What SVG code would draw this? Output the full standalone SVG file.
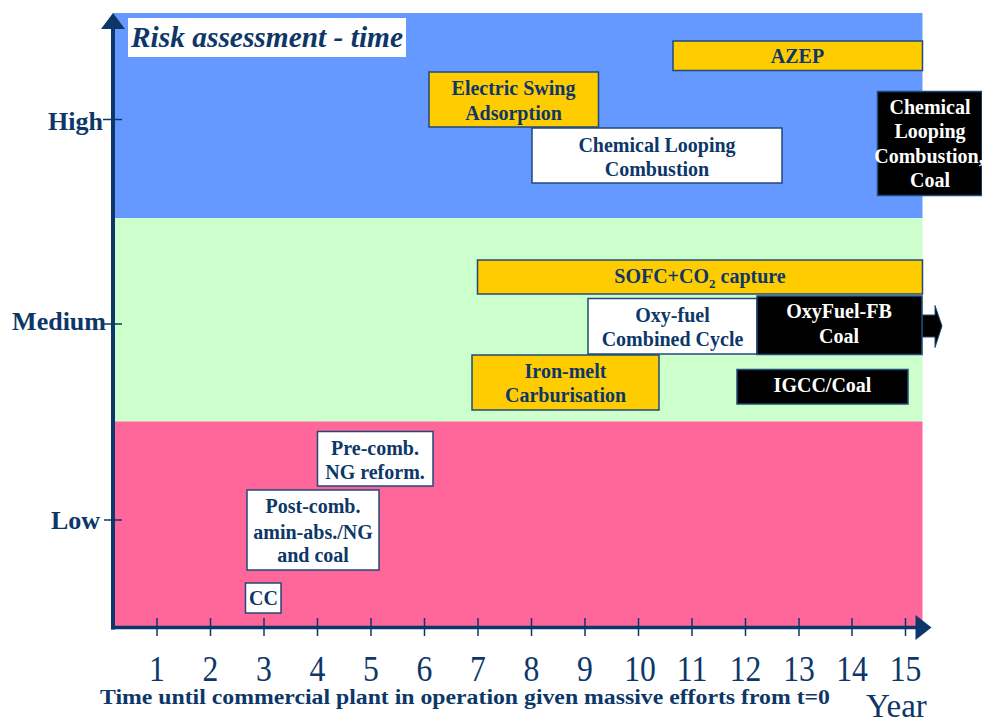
<svg xmlns="http://www.w3.org/2000/svg" width="982" height="724" viewBox="0 0 982 724">
<style>
.lbl{font-family:"Liberation Serif","Times New Roman",serif;font-weight:bold;font-size:20px;fill:#0d3768;text-anchor:middle}
.wl{fill:#ffffff}
.box{stroke:#1f4a7a;stroke-width:1.5}
.org{fill:#ffcc00}
.wht{fill:#ffffff}
.blk{fill:#000000}
.ax{stroke:#0d3768;fill:none}
.ylab{font-family:"Liberation Serif","Times New Roman",serif;font-weight:bold;font-size:26px;fill:#0d3768;text-anchor:end}
.num{font-family:"Liberation Serif","Times New Roman",serif;font-size:36px;fill:#0d3768;text-anchor:middle}
</style>
<rect width="982" height="724" fill="#ffffff"/>
<g id="bands">
<rect x="113" y="13" width="809.5" height="205" fill="#6699ff"/>
<rect x="113" y="218" width="809.5" height="203.5" fill="#ccffcc"/>
<rect x="113" y="421.5" width="809.5" height="205" fill="#ff6699"/>
</g>
<g id="title">
<rect x="128" y="18" width="278" height="39" fill="#ffffff"/>
<text x="131" y="47" font-family="'Liberation Serif','Times New Roman',serif" font-weight="bold" font-style="italic" font-size="29" fill="#0d3768" textLength="272" lengthAdjust="spacingAndGlyphs">Risk assessment - time</text>
</g>
<g id="axes">
<line class="ax" x1="113" y1="26" x2="113" y2="629.5" stroke-width="4"/>
<polygon points="101,29 113,13 125,29" fill="#0d3768"/>
<line class="ax" x1="111" y1="627.5" x2="918" y2="627.5" stroke-width="3.5"/>
<polygon points="915.5,615 931.5,627.5 915.5,640" fill="#0d3768"/>
<g stroke="#0d3768" stroke-width="1.5">
<line x1="103" y1="119.5" x2="122" y2="119.5"/>
<line x1="103" y1="324" x2="122" y2="324"/>
<line x1="104" y1="520" x2="122" y2="520"/>
<line x1="157" y1="618" x2="157" y2="636"/>
<line x1="210.5" y1="618" x2="210.5" y2="636"/>
<line x1="264" y1="618" x2="264" y2="636"/>
<line x1="317.5" y1="618" x2="317.5" y2="636"/>
<line x1="371" y1="618" x2="371" y2="636"/>
<line x1="424.5" y1="618" x2="424.5" y2="636"/>
<line x1="478" y1="618" x2="478" y2="636"/>
<line x1="531.5" y1="618" x2="531.5" y2="636"/>
<line x1="585" y1="618" x2="585" y2="636"/>
<line x1="638.5" y1="618" x2="638.5" y2="636"/>
<line x1="692" y1="618" x2="692" y2="636"/>
<line x1="745.5" y1="618" x2="745.5" y2="636"/>
<line x1="799" y1="618" x2="799" y2="636"/>
<line x1="852" y1="618" x2="852" y2="636"/>
<line x1="905.5" y1="618" x2="905.5" y2="636"/>
</g>
<text class="ylab" x="103" y="129.5">High</text>
<text class="ylab" x="106" y="329.5">Medium</text>
<text class="ylab" x="100" y="529">Low</text>
<g class="num">
<text transform="translate(157,681) scale(0.88,1)">1</text>
<text transform="translate(210.5,681) scale(0.88,1)">2</text>
<text transform="translate(264,681) scale(0.88,1)">3</text>
<text transform="translate(317.5,681) scale(0.88,1)">4</text>
<text transform="translate(371,681) scale(0.88,1)">5</text>
<text transform="translate(424.5,681) scale(0.88,1)">6</text>
<text transform="translate(478,681) scale(0.88,1)">7</text>
<text transform="translate(531.5,681) scale(0.88,1)">8</text>
<text transform="translate(585,681) scale(0.88,1)">9</text>
<text transform="translate(640,681) scale(0.88,1)">10</text>
<text transform="translate(692,681) scale(0.88,1)">11</text>
<text transform="translate(745.5,681) scale(0.88,1)">12</text>
<text transform="translate(799,681) scale(0.88,1)">13</text>
<text transform="translate(852,681) scale(0.88,1)">14</text>
<text transform="translate(905.5,681) scale(0.88,1)">15</text>
</g>
<text x="100" y="704" font-family="'Liberation Serif','Times New Roman',serif" font-weight="bold" font-size="20" fill="#0d3768" textLength="730" lengthAdjust="spacingAndGlyphs">Time until commercial plant in operation given massive efforts from t=0</text>
<text x="866" y="717" font-family="'Liberation Serif','Times New Roman',serif" font-size="33" fill="#0d3768">Year</text>
</g>
<g id="connectors">
<polygon points="922,315 935,315 935,305.5 942,326 935,347.5 935,337 922,337" fill="#000000" stroke="#1f4a7a" stroke-width="1"/>
</g>
<g id="azep">
<rect class="box org" x="673" y="41" width="249.5" height="29.5"/>
<text class="lbl" x="797.5" y="63">AZEP</text>
</g>
<g id="esa">
<rect class="box org" x="429" y="72" width="169.5" height="55"/>
<text class="lbl" x="513.5" y="95">Electric Swing</text>
<text class="lbl" x="513.5" y="120">Adsorption</text>
</g>
<g id="clc">
<rect class="box wht" x="532" y="128" width="250" height="55"/>
<text class="lbl" x="657" y="152">Chemical Looping</text>
<text class="lbl" x="657" y="176">Combustion</text>
</g>
<g id="clc-coal">
<rect class="box blk" x="877.5" y="91.5" width="104.5" height="104"/>
<text class="lbl wl" x="930" y="113.5">Chemical</text>
<text class="lbl wl" x="930" y="138">Looping</text>
<text class="lbl wl" x="929" y="162.5" font-size="18">Combustion,</text>
<text class="lbl wl" x="930" y="187">Coal</text>
</g>
<g id="sofc">
<rect class="box org" x="477.5" y="260" width="445" height="34"/>
<text class="lbl" x="700" y="283">SOFC+CO<tspan font-size="13" dy="5">2</tspan><tspan dy="-5"> capture</tspan></text>
</g>
<g id="oxyfuel-cc">
<rect class="box wht" x="588" y="298.5" width="169" height="55.5"/>
<text class="lbl" x="672.5" y="322">Oxy-fuel</text>
<text class="lbl" x="672.5" y="345.5">Combined Cycle</text>
</g>
<g id="oxyfuel-fb">
<rect class="box blk" x="757" y="296" width="165" height="58.5"/>
<text class="lbl wl" x="839" y="318">OxyFuel-FB</text>
<text class="lbl wl" x="839" y="343">Coal</text>
</g>
<g id="iron-melt">
<rect class="box org" x="472" y="355" width="187" height="55"/>
<text class="lbl" x="565.5" y="378">Iron-melt</text>
<text class="lbl" x="565.5" y="402">Carburisation</text>
</g>
<g id="igcc">
<rect class="box blk" x="737" y="369.5" width="171" height="34.5"/>
<text class="lbl wl" x="822.5" y="392">IGCC/Coal</text>
</g>
<g id="pre-comb">
<rect class="box wht" x="317.5" y="431.5" width="115.5" height="54.5"/>
<text class="lbl" x="375" y="454.5">Pre-comb.</text>
<text class="lbl" x="375" y="479">NG reform.</text>
</g>
<g id="post-comb">
<rect class="box wht" x="247" y="490" width="132" height="80"/>
<text class="lbl" x="313" y="513">Post-comb.</text>
<text class="lbl" x="313" y="538.5">amin-abs./NG</text>
<text class="lbl" x="313" y="562">and coal</text>
</g>
<g id="cc">
<rect class="box wht" x="245.5" y="583" width="35.5" height="30"/>
<text class="lbl" x="263.5" y="605">CC</text>
</g>
</svg>
